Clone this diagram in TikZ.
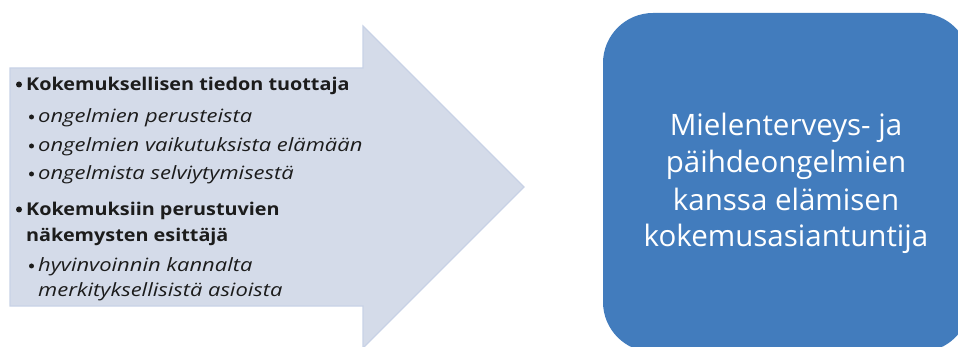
\documentclass[tikz,border=0pt]{standalone}
\usepackage{fontspec}
\setmainfont{Open Sans}
\definecolor{arrowfill}{HTML}{D4DBE9}
\definecolor{arrowedge}{HTML}{C8D2E6}
\definecolor{boxfill}{HTML}{427CBD}
\definecolor{txt}{HTML}{1C1C1C}
\newcommand{\boldline}[1]{\scalebox{1.125}[1]{#1}}
\newcommand{\itline}[1]{\scalebox{1.2}[1]{#1}}
\begin{document}
\begin{tikzpicture}[x=1pt,y=-1pt,
  lvlone/.style={anchor=base west,inner sep=0pt,font=\fontsize{17.6}{22}\selectfont\bfseries,text=txt},
  lvltwo/.style={anchor=base west,inner sep=0pt,font=\fontsize{18.3}{22}\selectfont\itshape,text=txt},
  bulone/.style={circle,fill=txt,inner sep=0pt,minimum size=6pt},
  bultwo/.style={circle,fill=txt,inner sep=0pt,minimum size=5pt},
  boxtext/.style={anchor=base,inner sep=0pt,font=\fontsize{29.5}{37}\selectfont,text=white}]
\useasboundingbox (0,0) rectangle (958,347);
% arrow
\path[fill=arrowfill,draw=arrowedge,line width=1.2pt,line join=miter]
  (10,68) -- (363,68) -- (363,26) -- (524,187) -- (363,348) -- (363,306) -- (10,306) -- cycle;
% box
\path[fill=boxfill,rounded corners=50pt] (603,13) rectangle (970,352);
% left text
\node[bulone] (b1) at (19,84.5) {};
\node[lvlone] (t1) at (26,91) {\boldline{Kokemuksellisen tiedon tuottaja}};
\node[bultwo] (b2) at (31.5,117) {};
\node[lvltwo] (t2) at (38,123) {\itline{ongelmien perusteista}};
\node[bultwo] (b3) at (31.5,146) {};
\node[lvltwo] (t3) at (38,152) {\itline{ongelmien vaikutuksista elämään}};
\node[bultwo] (b4) at (31.5,174) {};
\node[lvltwo] (t4) at (38,180) {\itline{ongelmista selviytymisestä}};
\node[bulone] (b5) at (19,209.5) {};
\node[lvlone] (t5) at (26,216) {\boldline{Kokemuksiin perustuvien}};
\node[lvlone] (t6) at (26,242) {\boldline{näkemysten esittäjä}};
\node[bultwo] (b7) at (31.5,266) {};
\node[lvltwo] (t7) at (38,272) {\itline{hyvinvoinnin kannalta}};
\node[lvltwo] (t8) at (38,297) {\itline{merkityksellisistä asioista}};
% right text
\node[boxtext] (r1) at (786,136) {Mielenterveys- ja};
\node[boxtext] (r2) at (786,173) {päihdeongelmien};
\node[boxtext] (r3) at (786,211) {kanssa elämisen};
\node[boxtext] (r4) at (786,247) {kokemusasiantuntija};
\end{tikzpicture}
\end{document}
